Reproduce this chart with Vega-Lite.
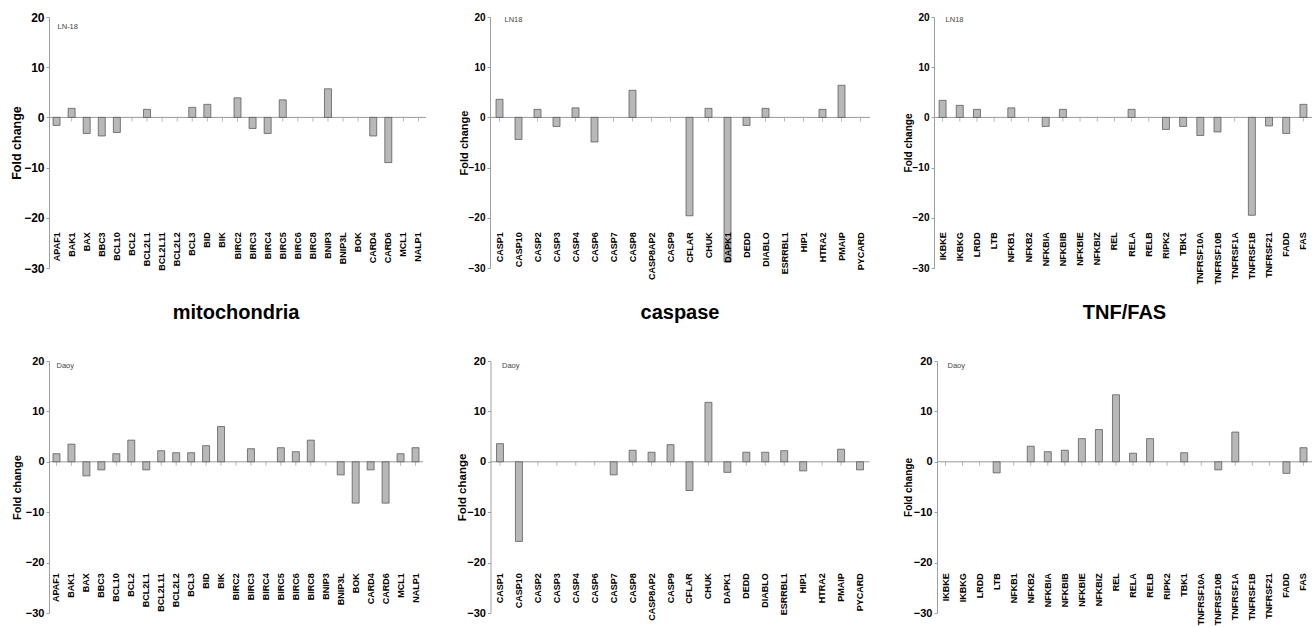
{
  "$schema": "https://vega.github.io/schema/vega-lite/v6.json",
  "padding": {"left": 10, "top": 11, "right": 0, "bottom": 5},
  "config": {
    "view": {"stroke": null},
    "font": "Liberation Sans",
    "axisY": {
      "grid": false,
      "domainColor": "#a0a0a0",
      "tickColor": "#a0a0a0",
      "tickSize": 3,
      "labelPadding": 2,
      "labelFontWeight": "bold",
      "labelColor": "#000000",
      "titleFontWeight": "bold",
      "titleColor": "#000000",
      "values": [-30, -20, -10, 0, 10, 20]
    }
  },
  "datasets": {
    "ln18_mito": [
      {"gene": "APAF1", "fold": -1.6}, {"gene": "BAK1", "fold": 1.8}, {"gene": "BAX", "fold": -3.2},
      {"gene": "BBC3", "fold": -3.7}, {"gene": "BCL10", "fold": -3.0}, {"gene": "BCL2", "fold": 0},
      {"gene": "BCL2L1", "fold": 1.6}, {"gene": "BCL2L11", "fold": 0}, {"gene": "BCL2L2", "fold": 0},
      {"gene": "BCL3", "fold": 2.0}, {"gene": "BID", "fold": 2.6}, {"gene": "BIK", "fold": 0},
      {"gene": "BIRC2", "fold": 3.9}, {"gene": "BIRC3", "fold": -2.2}, {"gene": "BIRC4", "fold": -3.2},
      {"gene": "BIRC5", "fold": 3.5}, {"gene": "BIRC6", "fold": 0}, {"gene": "BIRC8", "fold": 0},
      {"gene": "BNIP3", "fold": 5.7}, {"gene": "BNIP3L", "fold": 0}, {"gene": "BOK", "fold": 0},
      {"gene": "CARD4", "fold": -3.7}, {"gene": "CARD6", "fold": -9.0}, {"gene": "MCL1", "fold": 0},
      {"gene": "NALP1", "fold": 0}
    ],
    "ln18_casp": [
      {"gene": "CASP1", "fold": 3.6}, {"gene": "CASP10", "fold": -4.4}, {"gene": "CASP2", "fold": 1.6},
      {"gene": "CASP3", "fold": -1.8}, {"gene": "CASP4", "fold": 1.9}, {"gene": "CASP6", "fold": -4.9},
      {"gene": "CASP7", "fold": 0}, {"gene": "CASP8", "fold": 5.4}, {"gene": "CASP8AP2", "fold": 0},
      {"gene": "CASP9", "fold": 0}, {"gene": "CFLAR", "fold": -19.6}, {"gene": "CHUK", "fold": 1.8},
      {"gene": "DAPK1", "fold": -28.8}, {"gene": "DEDD", "fold": -1.6}, {"gene": "DIABLO", "fold": 1.8},
      {"gene": "ESRRBL1", "fold": 0}, {"gene": "HIP1", "fold": 0}, {"gene": "HTRA2", "fold": 1.6},
      {"gene": "PMAIP", "fold": 6.4}, {"gene": "PYCARD", "fold": 0}
    ],
    "ln18_tnf": [
      {"gene": "IKBKE", "fold": 3.4}, {"gene": "IKBKG", "fold": 2.4}, {"gene": "LRDD", "fold": 1.6},
      {"gene": "LTB", "fold": 0}, {"gene": "NFKB1", "fold": 1.9}, {"gene": "NFKB2", "fold": 0},
      {"gene": "NFKBIA", "fold": -1.8}, {"gene": "NFKBIB", "fold": 1.6}, {"gene": "NFKBIE", "fold": 0},
      {"gene": "NFKBIZ", "fold": 0}, {"gene": "REL", "fold": 0}, {"gene": "RELA", "fold": 1.6},
      {"gene": "RELB", "fold": 0}, {"gene": "RIPK2", "fold": -2.4}, {"gene": "TBK1", "fold": -1.8},
      {"gene": "TNFRSF10A", "fold": -3.6}, {"gene": "TNFRSF10B", "fold": -2.9}, {"gene": "TNFRSF1A", "fold": 0},
      {"gene": "TNFRSF1B", "fold": -19.5}, {"gene": "TNFRSF21", "fold": -1.7}, {"gene": "FADD", "fold": -3.2},
      {"gene": "FAS", "fold": 2.6}
    ],
    "daoy_mito": [
      {"gene": "APAF1", "fold": 1.6}, {"gene": "BAK1", "fold": 3.5}, {"gene": "BAX", "fold": -2.8},
      {"gene": "BBC3", "fold": -1.6}, {"gene": "BCL10", "fold": 1.6}, {"gene": "BCL2", "fold": 4.3},
      {"gene": "BCL2L1", "fold": -1.6}, {"gene": "BCL2L11", "fold": 2.2}, {"gene": "BCL2L2", "fold": 1.8},
      {"gene": "BCL3", "fold": 1.8}, {"gene": "BID", "fold": 3.2}, {"gene": "BIK", "fold": 7.0},
      {"gene": "BIRC2", "fold": 0}, {"gene": "BIRC3", "fold": 2.6}, {"gene": "BIRC4", "fold": 0},
      {"gene": "BIRC5", "fold": 2.8}, {"gene": "BIRC6", "fold": 2.0}, {"gene": "BIRC8", "fold": 4.3},
      {"gene": "BNIP3", "fold": 0}, {"gene": "BNIP3L", "fold": -2.6}, {"gene": "BOK", "fold": -8.2},
      {"gene": "CARD4", "fold": -1.6}, {"gene": "CARD6", "fold": -8.2}, {"gene": "MCL1", "fold": 1.6},
      {"gene": "NALP1", "fold": 2.8}
    ],
    "daoy_casp": [
      {"gene": "CASP1", "fold": 3.6}, {"gene": "CASP10", "fold": -15.8}, {"gene": "CASP2", "fold": 0},
      {"gene": "CASP3", "fold": 0}, {"gene": "CASP4", "fold": 0}, {"gene": "CASP6", "fold": 0},
      {"gene": "CASP7", "fold": -2.6}, {"gene": "CASP8", "fold": 2.3}, {"gene": "CASP8AP2", "fold": 1.9},
      {"gene": "CASP9", "fold": 3.4}, {"gene": "CFLAR", "fold": -5.7}, {"gene": "CHUK", "fold": 11.8},
      {"gene": "DAPK1", "fold": -2.1}, {"gene": "DEDD", "fold": 1.9}, {"gene": "DIABLO", "fold": 1.9},
      {"gene": "ESRRBL1", "fold": 2.2}, {"gene": "HIP1", "fold": -1.8}, {"gene": "HTRA2", "fold": 0},
      {"gene": "PMAIP", "fold": 2.5}, {"gene": "PYCARD", "fold": -1.6}
    ],
    "daoy_tnf": [
      {"gene": "IKBKE", "fold": 0}, {"gene": "IKBKG", "fold": 0}, {"gene": "LRDD", "fold": 0},
      {"gene": "LTB", "fold": -2.2}, {"gene": "NFKB1", "fold": 0}, {"gene": "NFKB2", "fold": 3.1},
      {"gene": "NFKBIA", "fold": 2.0}, {"gene": "NFKBIB", "fold": 2.3}, {"gene": "NFKBIE", "fold": 4.6},
      {"gene": "NFKBIZ", "fold": 6.4}, {"gene": "REL", "fold": 13.3}, {"gene": "RELA", "fold": 1.7},
      {"gene": "RELB", "fold": 4.6}, {"gene": "RIPK2", "fold": 0}, {"gene": "TBK1", "fold": 1.8},
      {"gene": "TNFRSF10A", "fold": 0}, {"gene": "TNFRSF10B", "fold": -1.6}, {"gene": "TNFRSF1A", "fold": 5.9},
      {"gene": "TNFRSF1B", "fold": 0}, {"gene": "TNFRSF21", "fold": 0}, {"gene": "FADD", "fold": -2.3},
      {"gene": "FAS", "fold": 2.8}
    ]
  },
  "spacing": 18,
  "vconcat": [
    {
      "hconcat": [
        {
          "width": 377, "height": 251,
          "data": {"name": "ln18_mito"},
          "layer": [
            {"data": {"values": [{}]}, "mark": {"type": "rule", "color": "#9a9a9a"}, "encoding": {"y": {"datum": 0, "type": "quantitative", "title": "Fold change"}}},
            {"mark": {"type": "tick", "orient": "vertical", "color": "#9a9a9a", "size": 4, "thickness": 1, "yOffset": 2},
             "encoding": {"x": {"field": "gene", "type": "nominal", "sort": null, "axis": null, "scale": {"type": "band", "paddingInner": 0, "paddingOuter": 0}}, "y": {"datum": 0, "type": "quantitative", "title": "Fold change"}}},
            {"transform": [{"filter": "datum.fold != 0"}],
             "mark": {"type": "bar", "size": 7, "fill": "#b8b8b8", "stroke": "#4d4d4d", "strokeWidth": 0.7},
             "encoding": {"x": {"field": "gene", "type": "nominal", "sort": null, "axis": null, "scale": {"type": "band", "paddingInner": 0, "paddingOuter": 0}},
               "y": {"field": "fold", "type": "quantitative", "title": "Fold change", "scale": {"domain": [-30, 20], "nice": false, "zero": false},
                 "axis": {"labelFontSize": 12, "titleFontSize": 12.5, "titlePadding": 0}}}},
            {"mark": {"type": "text", "angle": 270, "align": "right", "baseline": "middle", "fontSize": 9, "fontWeight": "bold", "color": "#000000"},
             "encoding": {"x": {"field": "gene", "type": "nominal", "sort": null, "axis": null, "scale": {"type": "band", "paddingInner": 0, "paddingOuter": 0}}, "y": {"datum": -22.9, "type": "quantitative", "title": "Fold change"}, "text": {"field": "gene"}}},
            {"transform": [{"filter": "datum.gene === 'APAF1'"}],
             "mark": {"type": "text", "align": "left", "baseline": "middle", "fontSize": 7.5, "color": "#444444", "dx": 1},
             "encoding": {"x": {"field": "gene", "type": "nominal", "sort": null, "axis": null, "scale": {"type": "band", "paddingInner": 0, "paddingOuter": 0}}, "y": {"datum": 18.1, "type": "quantitative", "title": "Fold change"}, "text": {"value": "LN-18"}}}
          ]
        },
        {
          "width": 380, "height": 251,
          "data": {"name": "ln18_casp"},
          "layer": [
            {"data": {"values": [{}]}, "mark": {"type": "rule", "color": "#9a9a9a"}, "encoding": {"y": {"datum": 0, "type": "quantitative", "title": "Fold change"}}},
            {"mark": {"type": "tick", "orient": "vertical", "color": "#9a9a9a", "size": 4, "thickness": 1, "yOffset": 2},
             "encoding": {"x": {"field": "gene", "type": "nominal", "sort": null, "axis": null, "scale": {"type": "band", "paddingInner": 0, "paddingOuter": 0}}, "y": {"datum": 0, "type": "quantitative", "title": "Fold change"}}},
            {"transform": [{"filter": "datum.fold != 0"}],
             "mark": {"type": "bar", "size": 7, "fill": "#b8b8b8", "stroke": "#4d4d4d", "strokeWidth": 0.7},
             "encoding": {"x": {"field": "gene", "type": "nominal", "sort": null, "axis": null, "scale": {"type": "band", "paddingInner": 0, "paddingOuter": 0}},
               "y": {"field": "fold", "type": "quantitative", "title": "Fold change", "scale": {"domain": [-30, 20], "nice": false, "zero": false},
                 "axis": {"labelFontSize": 10, "titleFontSize": 11, "titlePadding": -1}}}},
            {"mark": {"type": "text", "angle": 270, "align": "right", "baseline": "middle", "fontSize": 9, "fontWeight": "bold", "color": "#000000"},
             "encoding": {"x": {"field": "gene", "type": "nominal", "sort": null, "axis": null, "scale": {"type": "band", "paddingInner": 0, "paddingOuter": 0}}, "y": {"datum": -22.9, "type": "quantitative", "title": "Fold change"}, "text": {"field": "gene"}}},
            {"transform": [{"filter": "datum.gene === 'CASP1'"}],
             "mark": {"type": "text", "align": "left", "baseline": "middle", "fontSize": 7.5, "color": "#444444", "dx": 5},
             "encoding": {"x": {"field": "gene", "type": "nominal", "sort": null, "axis": null, "scale": {"type": "band", "paddingInner": 0, "paddingOuter": 0}}, "y": {"datum": 19.5, "type": "quantitative", "title": "Fold change"}, "text": {"value": "LN18"}}}
          ]
        },
        {
          "width": 378, "height": 251,
          "data": {"name": "ln18_tnf"},
          "layer": [
            {"data": {"values": [{}]}, "mark": {"type": "rule", "color": "#9a9a9a"}, "encoding": {"y": {"datum": 0, "type": "quantitative", "title": "Fold change"}}},
            {"mark": {"type": "tick", "orient": "vertical", "color": "#9a9a9a", "size": 4, "thickness": 1, "yOffset": 2},
             "encoding": {"x": {"field": "gene", "type": "nominal", "sort": null, "axis": null, "scale": {"type": "band", "paddingInner": 0, "paddingOuter": 0}}, "y": {"datum": 0, "type": "quantitative", "title": "Fold change"}}},
            {"transform": [{"filter": "datum.fold != 0"}],
             "mark": {"type": "bar", "size": 7, "fill": "#b8b8b8", "stroke": "#4d4d4d", "strokeWidth": 0.7},
             "encoding": {"x": {"field": "gene", "type": "nominal", "sort": null, "axis": null, "scale": {"type": "band", "paddingInner": 0, "paddingOuter": 0}},
               "y": {"field": "fold", "type": "quantitative", "title": "Fold change", "scale": {"domain": [-30, 20], "nice": false, "zero": false},
                 "axis": {"labelFontSize": 10, "titleFontSize": 10, "titlePadding": -1.5}}}},
            {"mark": {"type": "text", "angle": 270, "align": "right", "baseline": "middle", "fontSize": 9, "fontWeight": "bold", "color": "#000000"},
             "encoding": {"x": {"field": "gene", "type": "nominal", "sort": null, "axis": null, "scale": {"type": "band", "paddingInner": 0, "paddingOuter": 0}}, "y": {"datum": -22.9, "type": "quantitative", "title": "Fold change"}, "text": {"field": "gene"}}},
            {"transform": [{"filter": "datum.gene === 'IKBKE'"}],
             "mark": {"type": "text", "align": "left", "baseline": "middle", "fontSize": 7.5, "color": "#444444", "dx": 3},
             "encoding": {"x": {"field": "gene", "type": "nominal", "sort": null, "axis": null, "scale": {"type": "band", "paddingInner": 0, "paddingOuter": 0}}, "y": {"datum": 19.5, "type": "quantitative", "title": "Fold change"}, "text": {"value": "LN18"}}}
          ]
        }
      ],
      "spacing": 64,
      "bounds": "flush"
    },
    {
      "hconcat": [
        {
          "width": 374, "height": 252,
          "data": {"name": "daoy_mito"},
          "title": {"text": "mitochondria", "fontSize": 20, "fontWeight": "bold", "color": "#000000", "frame": "group", "anchor": "middle", "baseline": "alphabetic", "offset": 16},
          "layer": [
            {"data": {"values": [{}]}, "mark": {"type": "rule", "color": "#9a9a9a"}, "encoding": {"y": {"datum": 0, "type": "quantitative", "title": "Fold change"}}},
            {"mark": {"type": "tick", "orient": "vertical", "color": "#9a9a9a", "size": 4, "thickness": 1, "yOffset": 2},
             "encoding": {"x": {"field": "gene", "type": "nominal", "sort": null, "axis": null, "scale": {"type": "band", "paddingInner": 0, "paddingOuter": 0}}, "y": {"datum": 0, "type": "quantitative", "title": "Fold change"}}},
            {"transform": [{"filter": "datum.fold != 0"}],
             "mark": {"type": "bar", "size": 7, "fill": "#b8b8b8", "stroke": "#4d4d4d", "strokeWidth": 0.7},
             "encoding": {"x": {"field": "gene", "type": "nominal", "sort": null, "axis": null, "scale": {"type": "band", "paddingInner": 0, "paddingOuter": 0}},
               "y": {"field": "fold", "type": "quantitative", "title": "Fold change", "scale": {"domain": [-30, 20], "nice": false, "zero": false},
                 "axis": {"labelFontSize": 11, "titleFontSize": 11, "titlePadding": 2.5}}}},
            {"mark": {"type": "text", "angle": 270, "align": "right", "baseline": "middle", "fontSize": 9, "fontWeight": "bold", "color": "#000000"},
             "encoding": {"x": {"field": "gene", "type": "nominal", "sort": null, "axis": null, "scale": {"type": "band", "paddingInner": 0, "paddingOuter": 0}}, "y": {"datum": -22.1, "type": "quantitative", "title": "Fold change"}, "text": {"field": "gene"}}},
            {"transform": [{"filter": "datum.gene === 'APAF1'"}],
             "mark": {"type": "text", "align": "left", "baseline": "middle", "fontSize": 7.5, "color": "#444444", "dx": 0},
             "encoding": {"x": {"field": "gene", "type": "nominal", "sort": null, "axis": null, "scale": {"type": "band", "paddingInner": 0, "paddingOuter": 0}}, "y": {"datum": 19.0, "type": "quantitative", "title": "Fold change"}, "text": {"value": "Daoy"}}}
          ]
        },
        {
          "width": 379, "height": 252,
          "data": {"name": "daoy_casp"},
          "title": {"text": "caspase", "fontSize": 20, "fontWeight": "bold", "color": "#000000", "frame": "group", "anchor": "middle", "baseline": "alphabetic", "offset": 16},
          "layer": [
            {"data": {"values": [{}]}, "mark": {"type": "rule", "color": "#9a9a9a"}, "encoding": {"y": {"datum": 0, "type": "quantitative", "title": "Fold change"}}},
            {"mark": {"type": "tick", "orient": "vertical", "color": "#9a9a9a", "size": 4, "thickness": 1, "yOffset": 2},
             "encoding": {"x": {"field": "gene", "type": "nominal", "sort": null, "axis": null, "scale": {"type": "band", "paddingInner": 0, "paddingOuter": 0}}, "y": {"datum": 0, "type": "quantitative", "title": "Fold change"}}},
            {"transform": [{"filter": "datum.fold != 0"}],
             "mark": {"type": "bar", "size": 7, "fill": "#b8b8b8", "stroke": "#4d4d4d", "strokeWidth": 0.7},
             "encoding": {"x": {"field": "gene", "type": "nominal", "sort": null, "axis": null, "scale": {"type": "band", "paddingInner": 0, "paddingOuter": 0}},
               "y": {"field": "fold", "type": "quantitative", "title": "Fold change", "scale": {"domain": [-30, 20], "nice": false, "zero": false},
                 "axis": {"labelFontSize": 11, "titleFontSize": 11.5, "titlePadding": -0.5}}}},
            {"mark": {"type": "text", "angle": 270, "align": "right", "baseline": "middle", "fontSize": 9, "fontWeight": "bold", "color": "#000000"},
             "encoding": {"x": {"field": "gene", "type": "nominal", "sort": null, "axis": null, "scale": {"type": "band", "paddingInner": 0, "paddingOuter": 0}}, "y": {"datum": -22.1, "type": "quantitative", "title": "Fold change"}, "text": {"field": "gene"}}},
            {"transform": [{"filter": "datum.gene === 'CASP1'"}],
             "mark": {"type": "text", "align": "left", "baseline": "middle", "fontSize": 7.5, "color": "#444444", "dx": 2},
             "encoding": {"x": {"field": "gene", "type": "nominal", "sort": null, "axis": null, "scale": {"type": "band", "paddingInner": 0, "paddingOuter": 0}}, "y": {"datum": 19.0, "type": "quantitative", "title": "Fold change"}, "text": {"value": "Daoy"}}}
          ]
        },
        {
          "width": 375, "height": 252,
          "data": {"name": "daoy_tnf"},
          "title": {"text": "TNF/FAS", "fontSize": 20, "fontWeight": "bold", "color": "#000000", "frame": "group", "anchor": "middle", "baseline": "alphabetic", "offset": 16},
          "layer": [
            {"data": {"values": [{}]}, "mark": {"type": "rule", "color": "#9a9a9a"}, "encoding": {"y": {"datum": 0, "type": "quantitative", "title": "Fold change"}}},
            {"mark": {"type": "tick", "orient": "vertical", "color": "#9a9a9a", "size": 4, "thickness": 1, "yOffset": 2},
             "encoding": {"x": {"field": "gene", "type": "nominal", "sort": null, "axis": null, "scale": {"type": "band", "paddingInner": 0, "paddingOuter": 0}}, "y": {"datum": 0, "type": "quantitative", "title": "Fold change"}}},
            {"transform": [{"filter": "datum.fold != 0"}],
             "mark": {"type": "bar", "size": 7, "fill": "#b8b8b8", "stroke": "#4d4d4d", "strokeWidth": 0.7},
             "encoding": {"x": {"field": "gene", "type": "nominal", "sort": null, "axis": null, "scale": {"type": "band", "paddingInner": 0, "paddingOuter": 0}},
               "y": {"field": "fold", "type": "quantitative", "title": "Fold change", "scale": {"domain": [-30, 20], "nice": false, "zero": false},
                 "axis": {"labelFontSize": 11, "titleFontSize": 10, "titlePadding": -0.5}}}},
            {"mark": {"type": "text", "angle": 270, "align": "right", "baseline": "middle", "fontSize": 9, "fontWeight": "bold", "color": "#000000"},
             "encoding": {"x": {"field": "gene", "type": "nominal", "sort": null, "axis": null, "scale": {"type": "band", "paddingInner": 0, "paddingOuter": 0}}, "y": {"datum": -22.1, "type": "quantitative", "title": "Fold change"}, "text": {"field": "gene"}}},
            {"transform": [{"filter": "datum.gene === 'IKBKE'"}],
             "mark": {"type": "text", "align": "left", "baseline": "middle", "fontSize": 7.5, "color": "#444444", "dx": 2},
             "encoding": {"x": {"field": "gene", "type": "nominal", "sort": null, "axis": null, "scale": {"type": "band", "paddingInner": 0, "paddingOuter": 0}}, "y": {"datum": 19.0, "type": "quantitative", "title": "Fold change"}, "text": {"value": "Daoy"}}}
          ]
        }
      ],
      "spacing": 67.5,
      "bounds": "flush"
    }
  ]
}
